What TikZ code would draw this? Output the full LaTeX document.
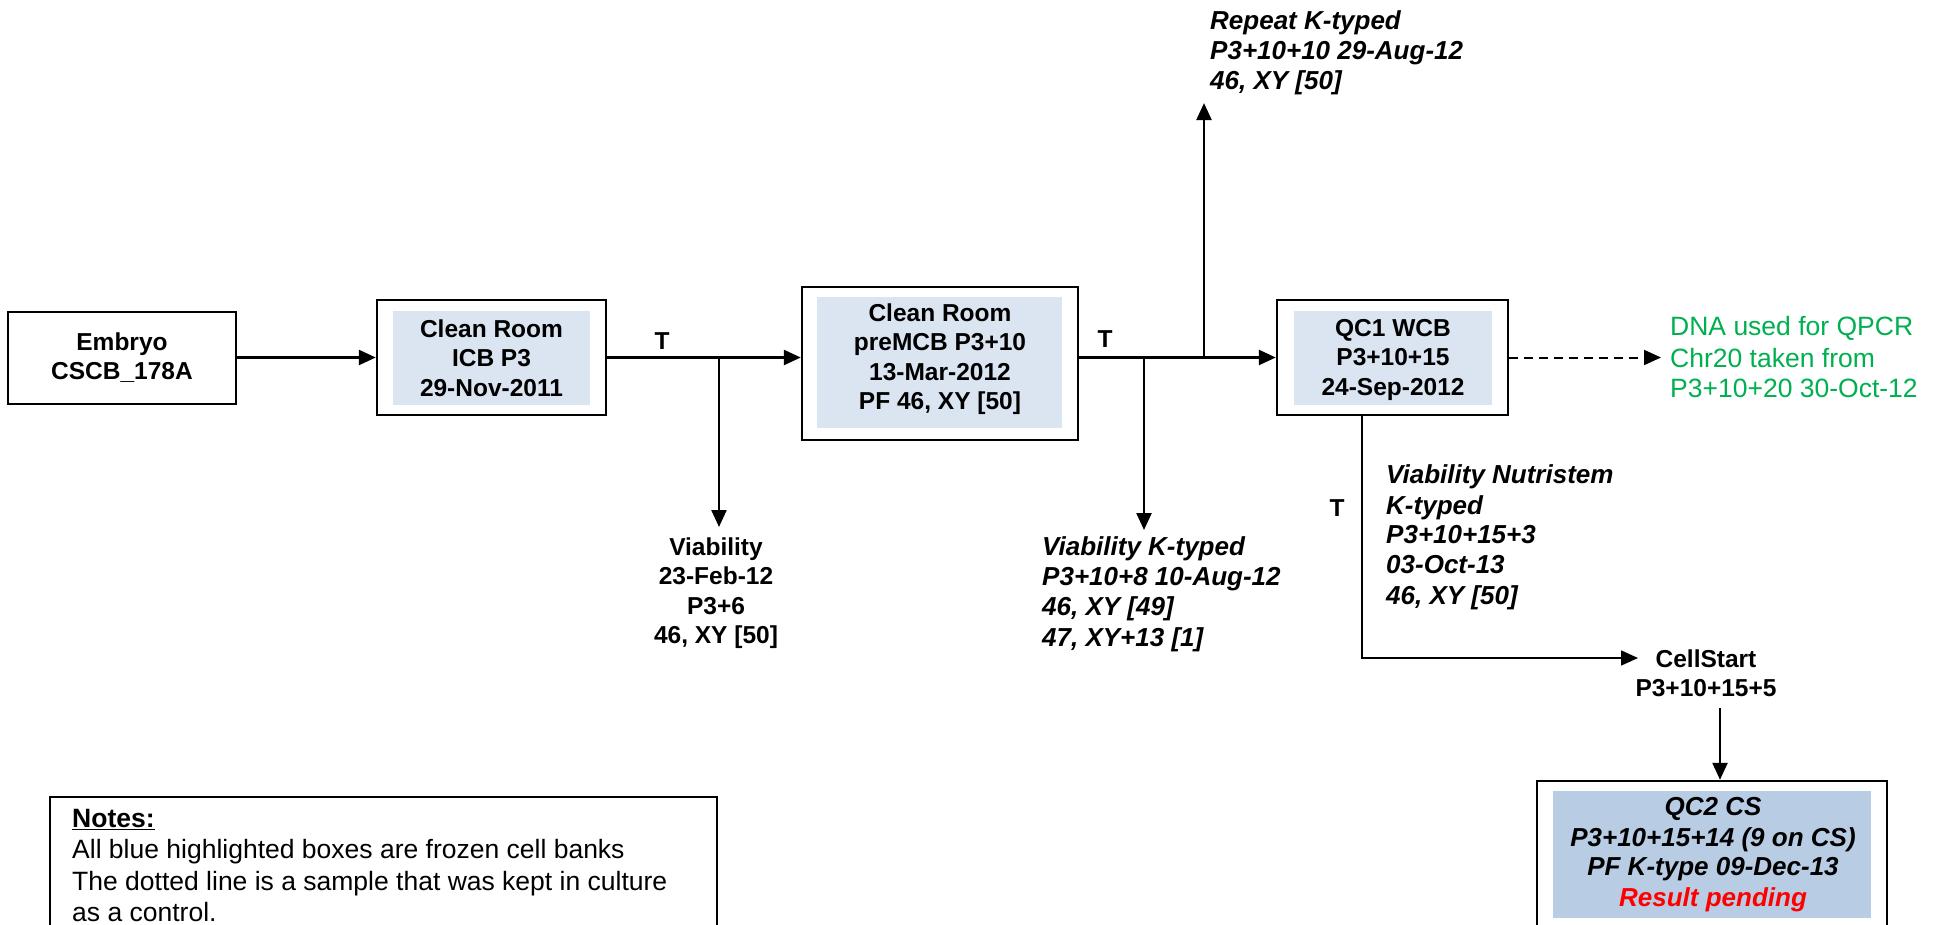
\documentclass[tikz,border=0pt]{standalone}
\usepackage{fontspec}
\setmainfont{Liberation Sans}
\usetikzlibrary{arrows.meta}
\definecolor{bankA}{HTML}{DBE5F1}
\definecolor{bankB}{HTML}{B8CCE4}
\definecolor{grn}{HTML}{00B050}
\newcommand\myl{\rule[-11pt]{0pt}{29.5pt}}
\newcommand\mylast{\rule{0pt}{18.5pt}}
\begin{document}
\begin{tikzpicture}[x=1pt,y=-1pt,
  box/.style={draw=black, line width=2.4pt, inner sep=0pt, fill=white},
  bank/.style={fill=bankA, draw=none, inner sep=0pt},
  txtB/.style={inner sep=0pt, anchor=north, align=center, font=\fontsize{24.5}{29.5}\selectfont\bfseries},
  txtI/.style={inner sep=0pt, anchor=north west, align=left, font=\fontsize{26}{29.5}\selectfont\bfseries\itshape},
  txtR/.style={inner sep=0pt, anchor=north west, align=left, font=\fontsize{26.5}{29.5}\selectfont},
  conn/.style={line width=2.4pt, -{Triangle[length=17pt,width=15pt]}},
  dconn/.style={line width=2pt, dash pattern=on 9pt off 6pt, -{Triangle[length=17pt,width=15pt]}},
  plain/.style={line width=2.4pt}]
\useasboundingbox (0,0) rectangle (1936,925);
\clip (0,0) rectangle (1936,925);
% boxes
\node[box, minimum width=228pt, minimum height=92pt] (emb) at (122,358) {};
\node[txtB] (embt) at (122,331.5) {\myl Embryo\\\myl CSCB\_178A};

\node[box, minimum width=229pt, minimum height=115pt] (icb) at (491.5,357.5) {};
\node[bank, minimum width=197pt, minimum height=94pt] (icbf) at (491.5,358) {};
\node[txtB] (icbt) at (491.5,318.5) {\myl Clean Room\\\myl ICB P3\\\myl 29-Nov-2011};

\node[box, minimum width=276pt, minimum height=153pt] (pre) at (940,363.5) {};
\node[bank, minimum width=245pt, minimum height=131pt] (pref) at (939.5,362.5) {};
\node[txtB] (pret) at (940,302.5) {\myl Clean Room\\\myl preMCB P3+10\\\myl 13-Mar-2012\\\myl PF 46, XY [50]};

\node[box, minimum width=231pt, minimum height=115pt] (qc1) at (1392.5,357.5) {};
\node[bank, minimum width=198pt, minimum height=94pt] (qc1f) at (1393,358) {};
\node[txtB] (qc1t) at (1393,317.5) {\myl QC1 WCB\\\myl P3+10+15\\\myl 24-Sep-2012};

\node[box, minimum width=350pt, minimum height=154pt] (qc2) at (1712,858) {};
\node[bank, fill=bankB, minimum width=318pt, minimum height=127pt] (qc2f) at (1712,854.5) {};
\node[txtB, font=\fontsize{26}{29.5}\selectfont\bfseries\itshape] (qc2t) at (1713,796.5) {\myl QC2 CS\\\myl P3+10+15+14 (9 on CS)\\\myl PF K-type 09-Dec-13\\\myl\textcolor{red}{Result pending}};

\node[box, minimum width=667pt, minimum height=143pt] (notes) at (383.5,868.5) {};
\node[txtR] (notest) at (72,809) {\myl\underline{\textbf{Notes:}}\\\myl All blue highlighted boxes are frozen cell banks\\\myl The dotted line is a sample that was kept in culture\\\mylast as a control.};

% free texts
\node[txtB] (t1) at (662,330.5) {\myl T};
\node[txtB] (t2) at (1105,328.5) {\myl T};
\node[txtB] (t3) at (1337,497.5) {\myl T};
\node[txtB] (viab) at (716,536.5) {\myl Viability\\\myl 23-Feb-12\\\myl P3+6\\\myl 46, XY [50]};
\node[txtI] (vkt) at (1042,536.5) {\myl Viability K-typed\\\myl P3+10+8 10-Aug-12\\\myl 46, XY [49]\\\myl 47, XY+13 [1]};
\node[txtI] (rep) at (1210,10.5) {\myl Repeat K-typed\\\myl P3+10+10 29-Aug-12\\\myl 46, XY [50]};
\node[txtI] (nut) at (1386,464.5) {\myl Viability Nutristem\\\myl K-typed\\\myl P3+10+15+3\\\myl 03-Oct-13\\\myl 46, XY [50]};
\node[txtB] (cs) at (1706,648.5) {\myl CellStart\\\myl P3+10+15+5};
\node[txtR, text=grn] (grn) at (1670,316.5) {\myl DNA used for QPCR\\\myl Chr20 taken from\\\myl P3+10+20 30-Oct-12};

% connectors
\coordinate (b1) at (719,357.5);
\coordinate (b2) at (1144,357.5);
\coordinate (bu) at (1204,357.5);
\coordinate (qd) at (1362,415);
\coordinate (csin) at (1638,658);
\draw[conn] (emb.east |- icb.west) -- (icb.west);
\draw[conn] (icb.east) -- (icb.east -| pre.west);
\draw[conn] (pre.east |- qc1.west) -- (qc1.west);
\draw[conn, shorten >=9.5pt] (b1) -- (b1 |- viab.north);
\draw[conn, shorten >=6.5pt] (b2) -- (b2 |- vkt.north);
\draw[conn, shorten >=2pt] (bu) -- (bu |- rep.south);
\draw[dconn, shorten >=9pt] (qc1.east) -- (qc1.east -| grn.west);
\draw[line width=1.8pt, -{Triangle[length=17pt,width=15pt]}] (qd) |- (csin);
\draw[conn] ([xshift=14pt]cs.south) -- ([xshift=14pt]cs.south |- qc2.north);
\end{tikzpicture}
\end{document}
